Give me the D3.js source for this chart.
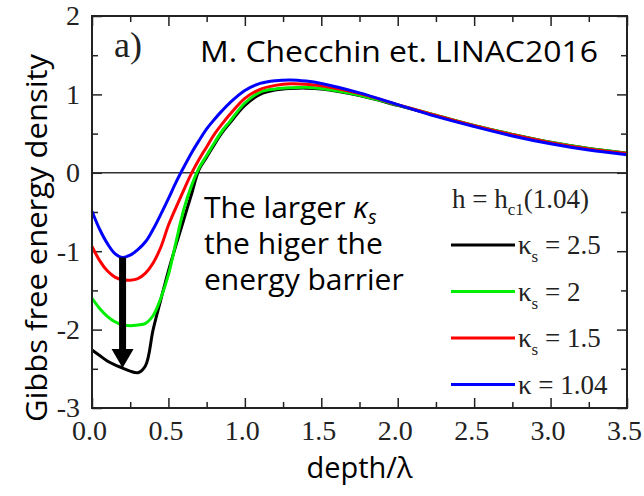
<!DOCTYPE html>
<html>
<head>
<meta charset="utf-8">
<script src="https://cdn.jsdelivr.net/npm/d3@7"></script>
<style>
  body { margin: 0; background: #fff; }
  .tick text { font-family: "Liberation Serif", serif; font-size: 28px; fill: #222; }
  .sans { font-family: "Open Sans", "Noto Sans", sans-serif; fill: #000; }
  .serif { font-family: "Liberation Serif", serif; fill: #222; }
</style>
</head>
<body>
<svg id="chart"></svg>
<script>
// depth/lambda sample points
var depth = [0, 0.05, 0.1, 0.15, 0.2, 0.25, 0.3, 0.35, 0.4, 0.45, 0.5, 0.55, 0.6, 0.65, 0.7, 0.75, 0.8, 0.85, 0.9, 1.0, 1.1, 1.2, 1.3, 1.4, 1.5, 1.75, 2.0, 2.25, 2.5, 2.75, 3.0, 3.25, 3.5];

// Gibbs free energy density for each kappa_s
var g25 = [-2.26, -2.33, -2.40, -2.45, -2.49, -2.53, -2.55, -2.46, -2.0, -1.62, -1.25, -0.92, -0.6, -0.28, 0.04, 0.2, 0.36, 0.51, 0.63, 0.86, 1.0, 1.055, 1.075, 1.08, 1.07, 0.985, 0.86, 0.73, 0.6, 0.49, 0.39, 0.31, 0.25];
var g2  = [-1.6, -1.73, -1.83, -1.9, -1.94, -1.95, -1.94, -1.92, -1.82, -1.6, -1.3, -0.88, -0.47, -0.17, 0.06, 0.22, 0.38, 0.53, 0.65, 0.89, 1.03, 1.07, 1.085, 1.09, 1.075, 0.99, 0.865, 0.735, 0.605, 0.49, 0.39, 0.31, 0.25];
var g15 = [-0.94, -1.12, -1.25, -1.33, -1.365, -1.37, -1.35, -1.28, -1.15, -0.95, -0.67, -0.44, -0.22, -0.01, 0.17, 0.33, 0.49, 0.62, 0.74, 0.95, 1.065, 1.115, 1.135, 1.13, 1.11, 1.01, 0.87, 0.73, 0.6, 0.485, 0.385, 0.305, 0.245];
var g104 = [-0.49, -0.72, -0.9, -1.03, -1.08, -1.05, -0.98, -0.88, -0.72, -0.53, -0.33, -0.12, 0.07, 0.25, 0.41, 0.56, 0.68, 0.79, 0.89, 1.05, 1.14, 1.175, 1.185, 1.17, 1.14, 1.02, 0.87, 0.72, 0.59, 0.47, 0.37, 0.29, 0.23];

var seriesNames = ["2.5", "2", "1.5", "1.04"];
var seriesColors = ["#000000", "#00ee00", "#ff0000", "#0000ff"];
var seriesValues = [g25, g2, g15, g104];

var xMajor = [0, 0.5, 1, 1.5, 2, 2.5, 3, 3.5];
var xMinor = [0.25, 0.75, 1.25, 1.75, 2.25, 2.75, 3.25];
var yMajor = [-3, -2, -1, 0, 1, 2];
var yMinor = [-2.5, -1.5, -0.5, 0.5, 1.5];

// arrow: from blue minimum down to black curve at depth 0.2
var arrowX = 0.2, arrowFrom = -1.08, arrowTo = -2.49;

var w = 644, h = 496;
var padL = 92, padR = 627, padT = 16, padB = 408;

var svg = d3.select("#chart").attr("width", w).attr("height", h);

var x = d3.scaleLinear().domain([0, 3.5]).range([padL, padR]);
var y = d3.scaleLinear().domain([-3, 2]).range([padB, padT]);

var fmtY = function(d) { return d < 0 ? "-" + Math.abs(d) : d; };

// major / minor ticks on all four sides (inward)
svg.append("g").attr("class", "xlab").attr("transform", "translate(0," + padB + ")")
    .call(d3.axisBottom(x).tickValues(xMajor).tickSize(-10).tickPadding(12).tickFormat(d3.format(".1f")));
svg.append("g").attr("transform", "translate(0," + padB + ")")
    .call(d3.axisBottom(x).tickValues(xMinor).tickSize(-6).tickFormat(""));
svg.append("g").attr("transform", "translate(0," + padT + ")")
    .call(d3.axisTop(x).tickValues(xMajor).tickSize(-10).tickFormat(""));
svg.append("g").attr("transform", "translate(0," + padT + ")")
    .call(d3.axisTop(x).tickValues(xMinor).tickSize(-6).tickFormat(""));
svg.append("g").attr("transform", "translate(" + padL + ",0)")
    .call(d3.axisLeft(y).tickValues(yMajor).tickSize(-10).tickPadding(12).tickFormat(fmtY));
svg.append("g").attr("transform", "translate(" + padL + ",0)")
    .call(d3.axisLeft(y).tickValues(yMinor).tickSize(-6).tickFormat(""));
svg.append("g").attr("transform", "translate(" + padR + ",0)")
    .call(d3.axisRight(y).tickValues(yMajor).tickSize(-10).tickFormat(""));
svg.append("g").attr("transform", "translate(" + padR + ",0)")
    .call(d3.axisRight(y).tickValues(yMinor).tickSize(-6).tickFormat(""));

svg.selectAll(".domain").remove();
svg.selectAll(".tick line").attr("stroke", "#222").attr("stroke-width", 1.5);
svg.selectAll(".xlab .tick text").attr("dx", -3);

// zero line
svg.append("line")
    .attr("x1", x(0)).attr("x2", x(3.5)).attr("y1", y(0)).attr("y2", y(0))
    .attr("stroke", "#333").attr("stroke-width", 1.5);

// curves
var line = d3.line()
    .x(function(d, i) { return x(depth[i]); })
    .y(function(d) { return y(d); })
    .curve(d3.curveCatmullRom.alpha(0.5));

svg.selectAll("path.curve")
    .data(seriesValues)
    .enter()
    .append("path")
    .attr("class", "curve")
    .attr("d", line)
    .attr("fill", "none")
    .attr("stroke", function(d, i) { return seriesColors[i]; })
    .attr("stroke-width", 3);

// frame
svg.append("rect")
    .attr("x", padL).attr("y", padT).attr("width", padR - padL).attr("height", padB - padT)
    .attr("fill", "none").attr("stroke", "#222").attr("stroke-width", 2);

// arrow
svg.append("line")
    .attr("x1", x(arrowX)).attr("x2", x(arrowX))
    .attr("y1", y(arrowFrom)).attr("y2", y(arrowTo) - 15)
    .attr("stroke", "#000").attr("stroke-width", 7);
svg.append("path")
    .attr("d", "M" + (x(arrowX) - 11) + "," + (y(arrowTo) - 19) +
               "L" + (x(arrowX) + 11) + "," + (y(arrowTo) - 19) +
               "L" + x(arrowX) + "," + y(arrowTo) + "Z")
    .attr("fill", "#000");

// axis labels
svg.append("text").attr("class", "sans")
    .attr("text-anchor", "middle")
    .attr("transform", "translate(47," + ((padT + padB) / 2 + 26) + ") rotate(-90)")
    .attr("font-size", 29)
    .attr("textLength", 368).attr("lengthAdjust", "spacingAndGlyphs")
    .text("Gibbs free energy density");

svg.append("text").attr("class", "sans")
    .attr("text-anchor", "middle")
    .attr("x", (padL + padR) / 2).attr("y", 478)
    .attr("font-size", 29)
    .text("depth/λ");

// panel label and reference
svg.append("text").attr("class", "serif")
    .attr("x", 114).attr("y", 57).attr("font-size", 36)
    .text("a)");
svg.append("text").attr("class", "sans")
    .attr("x", 200).attr("y", 62).attr("font-size", 29)
    .attr("textLength", 398).attr("lengthAdjust", "spacingAndGlyphs")
    .text("M. Checchin et. LINAC2016");

// annotation
var note = svg.append("text").attr("class", "sans").attr("font-size", 30);
var l1 = note.append("tspan").attr("x", 204).attr("y", 218);
l1.append("tspan").text("The larger ");
l1.append("tspan").attr("font-style", "italic").text("κ");
l1.append("tspan").attr("font-style", "italic").attr("font-size", 20).attr("dy", 6).text("s");
note.append("tspan").attr("x", 204).attr("y", 254).text("the higer the");
note.append("tspan").attr("x", 204).attr("y", 290).text("energy barrier");

// legend
var legendX = 451, legendY = 245, legendStep = 46.5;
var title = svg.append("text").attr("class", "serif").attr("font-size", 27)
    .attr("x", 452).attr("y", 208);
title.append("tspan").text("h = h");
title.append("tspan").attr("font-size", 17).attr("dy", 7).text("c1");
title.append("tspan").attr("dy", -7).text("(1.04)");

var items = svg.selectAll("g.legend")
    .data(seriesNames)
    .enter()
    .append("g")
    .attr("class", "legend")
    .attr("transform", function(d, i) { return "translate(" + legendX + "," + (legendY + i * legendStep) + ")"; });

items.append("line")
    .attr("x1", 0).attr("x2", 64)
    .attr("stroke", function(d, i) { return seriesColors[i]; })
    .attr("stroke-width", 3);

var lt = items.append("text").attr("class", "serif").attr("font-size", 27)
    .attr("x", 67).attr("y", 9);
lt.append("tspan").text("κ");
lt.append("tspan").attr("font-size", 17).attr("dy", 8)
    .text(function(d) { return d === "1.04" ? "" : "s"; });
lt.append("tspan").attr("dy", function(d) { return d === "1.04" ? 0 : -8; })
    .text(function(d) { return " = " + d; });
</script>
</body>
</html>
